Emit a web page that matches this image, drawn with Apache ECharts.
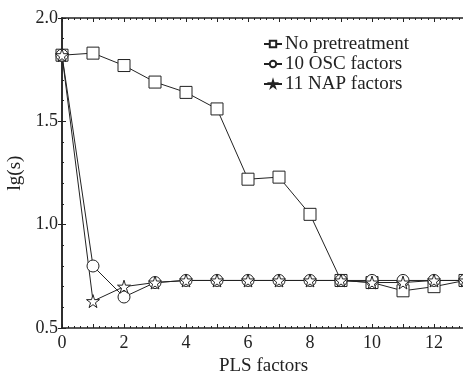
<!DOCTYPE html>
<html>
<head>
<meta charset="utf-8">
<script src="https://cdn.jsdelivr.net/npm/echarts@6/dist/echarts.min.js"></script>
<style>
  html, body { margin: 0; padding: 0; background: #fff; }
  #chart { width: 463px; height: 371px; }
</style>
</head>
<body>
<div id="chart"></div>
<script>
// PLS factors 0..13
const factors = [0, 1, 2, 3, 4, 5, 6, 7, 8, 9, 10, 11, 12, 13];
const noPretreatment = [1.82, 1.83, 1.77, 1.69, 1.64, 1.56, 1.22, 1.23, 1.05, 0.73, 0.72, 0.68, 0.70, 0.73];
const osc10 = [1.82, 0.80, 0.65, 0.72, 0.73, 0.73, 0.73, 0.73, 0.73, 0.73, 0.73, 0.73, 0.73, 0.73];
const nap11 = [1.82, 0.63, 0.70, 0.72, 0.73, 0.73, 0.73, 0.73, 0.73, 0.73, 0.72, 0.72, 0.73, 0.73];
const seriesNames = ['No pretreatment', '10 OSC factors', '11 NAP factors'];

const font = 'Liberation Serif';
const ink = '#222';
const star = 'path://M50,0 L61,35 L98,35 L68,57 L79,91 L50,70 L21,91 L32,57 L2,35 L39,35 Z';

const chart = echarts.init(document.getElementById('chart'));

const pairs = arr => factors.map((x, i) => [x, arr[i]]);

function mkSeries(name, data, symbol, size) {
  return {
    name: name,
    type: 'line',
    data: pairs(data),
    symbol: symbol,
    symbolSize: size,
    showAllSymbol: true,
    lineStyle: { color: ink, width: 1 },
    itemStyle: { color: '#fff', borderColor: ink, borderWidth: 1 },
    emphasis: { disabled: true },
    animation: false
  };
}

const option = {
  backgroundColor: '#fff',
  grid: { left: 62, top: 18, width: 403, height: 310, containLabel: false, outerBoundsMode: 'none' },
  legend: {
    orient: 'vertical',
    left: 258,
    top: 29,
    itemWidth: 18,
    itemHeight: 8,
    itemGap: 0,
    textStyle: { fontFamily: font, fontSize: 19, lineHeight: 20, color: ink, padding: [0, 0, 0, -2] },
    data: seriesNames
  },
  xAxis: [{
    type: 'value',
    min: 0, max: 13, interval: 1,
    name: 'PLS factors',
    nameLocation: 'middle',
    nameGap: 26,
    nameTextStyle: { fontFamily: font, fontSize: 19, color: ink },
    axisLine: { lineStyle: { color: ink, width: 1.5 } },
    axisTick: { inside: true, length: 4, lineStyle: { color: ink } },
    minorTick: { show: true, splitNumber: 5, length: 2, lineStyle: { color: ink } },
    splitLine: { show: false },
    axisLabel: {
      fontFamily: font, fontSize: 18, color: ink, margin: 6,
      formatter: v => (v % 2 === 0 ? String(v) : '')
    }
  }, {
    type: 'value', position: 'top',
    min: 0, max: 13, interval: 1,
    axisLine: { lineStyle: { color: ink, width: 1.5 } },
    axisTick: { inside: true, length: 4, lineStyle: { color: ink } },
    minorTick: { show: true, splitNumber: 5, length: 2, lineStyle: { color: ink } },
    splitLine: { show: false },
    axisLabel: { show: false }
  }],
  yAxis: [{
    type: 'value',
    min: 0.5, max: 2.0, interval: 0.5,
    name: 'lg(s)',
    nameLocation: 'middle',
    nameGap: 36,
    nameTextStyle: { fontFamily: font, fontSize: 19, color: ink },
    axisLine: { show: true, lineStyle: { color: ink, width: 1.5 } },
    axisTick: { show: true, inside: true, length: 4, lineStyle: { color: ink } },
    minorTick: { show: true, splitNumber: 5, length: 2, lineStyle: { color: ink } },
    splitLine: { show: false },
    axisLabel: {
      fontFamily: font, fontSize: 18, color: ink, margin: 4,
      formatter: v => v.toFixed(1)
    }
  }, {
    type: 'value', position: 'right',
    min: 0.5, max: 2.0, interval: 0.5,
    axisLine: { show: true, lineStyle: { color: ink, width: 1.5 } },
    axisTick: { show: true, inside: true, length: 4, lineStyle: { color: ink } },
    splitLine: { show: false },
    axisLabel: { show: false }
  }],
  series: [
    mkSeries(seriesNames[0], noPretreatment, 'rect', 12),
    mkSeries(seriesNames[1], osc10, 'circle', 12),
    mkSeries(seriesNames[2], nap11, star, 13)
  ]
};

chart.setOption(option);
</script>
</body>
</html>
